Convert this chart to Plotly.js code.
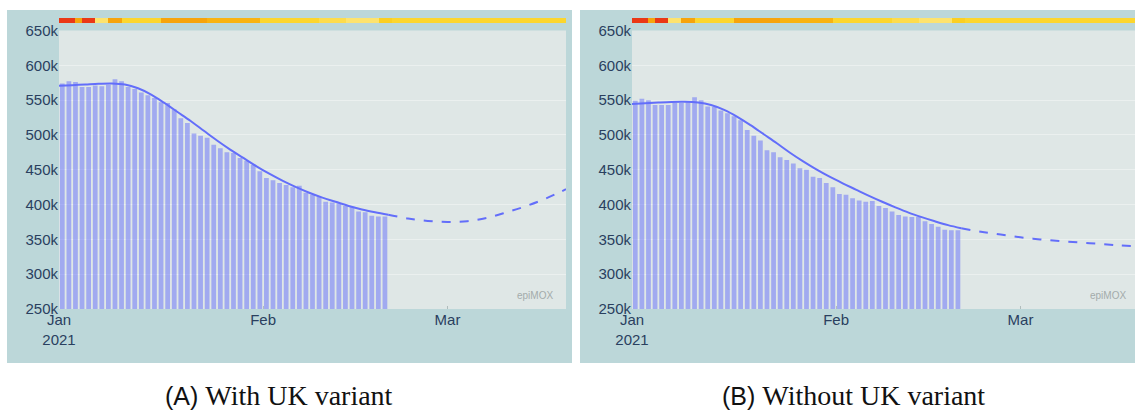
<!DOCTYPE html>
<html>
<head>
<meta charset="utf-8">
<script src="https://cdn.plot.ly/plotly-3.0.1.min.js"></script>
<style>
  html, body { margin: 0; padding: 0; background: #ffffff; width: 1135px; height: 413px; overflow: hidden; position: relative; }
  .panel { position: absolute; top: 10px; width: 565px; height: 353px; }
  #chartA { left: 7px; }
  #chartB { left: 580px; }
  .cap { position: absolute; top: 381px; height: 30px; font-size: 28px; color: #111; white-space: nowrap; line-height: 30px; }
  .cap .lab { font-family: "Liberation Sans", Arial, sans-serif; font-size: 25px; }
  .cap .txt { font-family: "Liberation Serif", "Times New Roman", serif; }
  #capA { left: 165px; }
  #capB { left: 722px; }
</style>
</head>
<body>
<div id="chartA" class="panel"></div>
<div id="chartB" class="panel"></div>
<div id="capA" class="cap"><span class="lab">(A)</span> <span class="txt">With UK variant</span></div>
<div id="capB" class="cap"><span class="lab">(B)</span> <span class="txt">Without UK variant</span></div>
<script>
// ---- data ----
const barDates = [
  "2021-01-01","2021-01-02","2021-01-03","2021-01-04","2021-01-05","2021-01-06","2021-01-07","2021-01-08","2021-01-09","2021-01-10",
  "2021-01-11","2021-01-12","2021-01-13","2021-01-14","2021-01-15","2021-01-16","2021-01-17","2021-01-18","2021-01-19","2021-01-20",
  "2021-01-21","2021-01-22","2021-01-23","2021-01-24","2021-01-25","2021-01-26","2021-01-27","2021-01-28","2021-01-29","2021-01-30",
  "2021-01-31","2021-02-01","2021-02-02","2021-02-03","2021-02-04","2021-02-05","2021-02-06","2021-02-07","2021-02-08","2021-02-09",
  "2021-02-10","2021-02-11","2021-02-12","2021-02-13","2021-02-14","2021-02-15","2021-02-16","2021-02-17","2021-02-18","2021-02-19"
];
const barsA = [
  574000,577000,576000,569000,569000,571000,570000,572000,580000,577000,
  569000,566000,561000,557000,553000,547000,546000,537000,524000,517000,
  502000,499000,496000,486000,481000,475000,474000,467000,463000,457000,
  448000,438000,435000,431000,428000,425000,427000,417000,414000,411000,
  404000,403000,402000,398000,397000,390000,389000,384000,383000,383000
];
const barsB = [
  549000,552000,550000,543000,543000,543000,546000,546000,547000,554000,
  550000,541000,540000,535000,531000,527000,521000,507000,499000,492000,
  478000,475000,468000,464000,459000,452000,450000,440000,438000,431000,
  425000,415000,414000,409000,406000,404000,405000,398000,395000,390000,
  385000,383000,382000,382000,376000,372000,368000,364000,363000,363000
];
const fitDates = ["2021-01-01","2021-01-03","2021-01-05","2021-01-07","2021-01-09","2021-01-11","2021-01-13","2021-01-15","2021-01-17","2021-01-19","2021-01-21","2021-01-23","2021-01-25","2021-01-27","2021-01-29","2021-01-31","2021-02-02","2021-02-04","2021-02-06","2021-02-08","2021-02-10","2021-02-12","2021-02-14","2021-02-16","2021-02-18","2021-02-20"];
const fitA = [570500,571500,572500,573500,574000,572500,567000,558000,546000,533000,520000,506000,492000,479000,467000,455000,444000,434000,425000,417000,410000,404000,398000,393000,389000,385500];
const fitB = [544500,545500,546500,547300,547500,546500,543000,536000,526000,514000,501000,488000,474500,462000,450500,440000,430500,421500,412500,404000,396000,388500,382000,376000,370500,366000];
const projDates = ["2021-02-20","2021-02-23","2021-02-26","2021-03-01","2021-03-04","2021-03-07","2021-03-10","2021-03-13","2021-03-16","2021-03-19"];
const projA = [385500,380000,376500,375000,376000,381000,389000,398000,409000,422000];
const projB = [366000,361000,357000,353000,350000,347500,345500,343500,341500,340000];
// strip levels per day (Jan 1 .. Mar 19)
const stripDates = [];
(function(){ const d0 = Date.UTC(2021,0,1); for (let i = 0; i <= 77; i++) { stripDates.push(new Date(d0 + i*86400000).toISOString().slice(0,10)); } })();
const stripLevels = [
  0,0,0,1,0,0,4,4,1,1,
  3,3,3,3,3,3,1,1,1,1,
  1,1,1,2,2,2,2,2,2,2,
  2,3,3,3,3,3,3,3,3,3,
  5,5,5,5,4,4,4,4,4,6,
  6,3,3,3,3,3,3,3,3,3,
  3,3,3,3,3,3,3,3,3,3,
  3,3,3,3,3,3,3,3
];
const stripColors = ["#ea3816","#f6a40c","#f8b312","#fcd62e","#fde36e","#fddc4c","#fbcf22"];
const yTicks = [250000,300000,350000,400000,450000,500000,550000,600000,650000];
const xTickVals = ["2021-01-01","2021-02-01","2021-03-01"];
const xTickText = ["Jan<br>2021","Feb","Mar"];

function stripScale() {
  const n = stripColors.length, cs = [];
  for (let i = 0; i < n; i++) { cs.push([i/n, stripColors[i]]); cs.push([(i+1)/n, stripColors[i]]); }
  return cs;
}

function makeChart(id, bars, fit, proj) {
  const blue = "#636efa";
  const traces = [
    { type: "bar", x: barDates, y: bars, xperiod: 86400000, xperiodalignment: "middle",
      marker: { color: "rgba(99,110,250,0.5)", line: { width: 0 } }, hoverinfo: "skip", showlegend: false },
    { type: "scatter", mode: "lines", x: fitDates, y: fit, line: { color: blue, width: 2, shape: "spline" }, showlegend: false },
    { type: "scatter", mode: "lines", x: projDates, y: proj, line: { color: blue, width: 2, dash: "dash", shape: "spline" }, showlegend: false },
    { type: "heatmap", x: stripDates, y: [0], z: [stripLevels], xaxis: "x", yaxis: "y2",
      zmin: -0.5, zmax: stripColors.length - 0.5, colorscale: stripScale(), showscale: false, hoverinfo: "skip" }
  ];
  const layout = {
    width: 565, height: 353,
    margin: { l: 52, r: 6, t: 8, b: 54, pad: 0 },
    paper_bgcolor: "#bcd7d9", plot_bgcolor: "rgba(0,0,0,0)",
    font: { family: "Liberation Sans, Arial, sans-serif", size: 15, color: "#2a3f5f" },
    bargap: 0.28,
    xaxis: { type: "date", range: ["2021-01-01", "2021-03-19"], tickvals: xTickVals, ticktext: xTickText,
      showgrid: false, zeroline: false, ticks: "inside", ticklen: 3, tickcolor: "#b0bcbc", showline: false, fixedrange: true },
    yaxis: { domain: [0, 0.957], range: [250000, 650000], tickvals: yTicks, tickformat: "~s",
      gridcolor: "#ebf0ef", gridwidth: 1, zeroline: false, showline: false, ticks: "" },
    yaxis2: { domain: [0.9828, 1], range: [-0.5, 0.5], visible: false, fixedrange: true },
    shapes: [{ type: "rect", xref: "paper", yref: "y domain", x0: 0, x1: 1, y0: 0, y1: 1,
      fillcolor: "#dfe7e6", line: { width: 0 }, layer: "below" }],
    annotations: [{ text: "epiMOX", xref: "paper", yref: "paper", x: 0.978, y: 0.047, xanchor: "right", yanchor: "middle",
      showarrow: false, font: { size: 10, color: "#a3abab" } }]
  };
  Plotly.newPlot(id, traces, layout, { displayModeBar: false, staticPlot: true });
}
makeChart("chartA", barsA, fitA, projA);
makeChart("chartB", barsB, fitB, projB);
</script>
</body>
</html>
